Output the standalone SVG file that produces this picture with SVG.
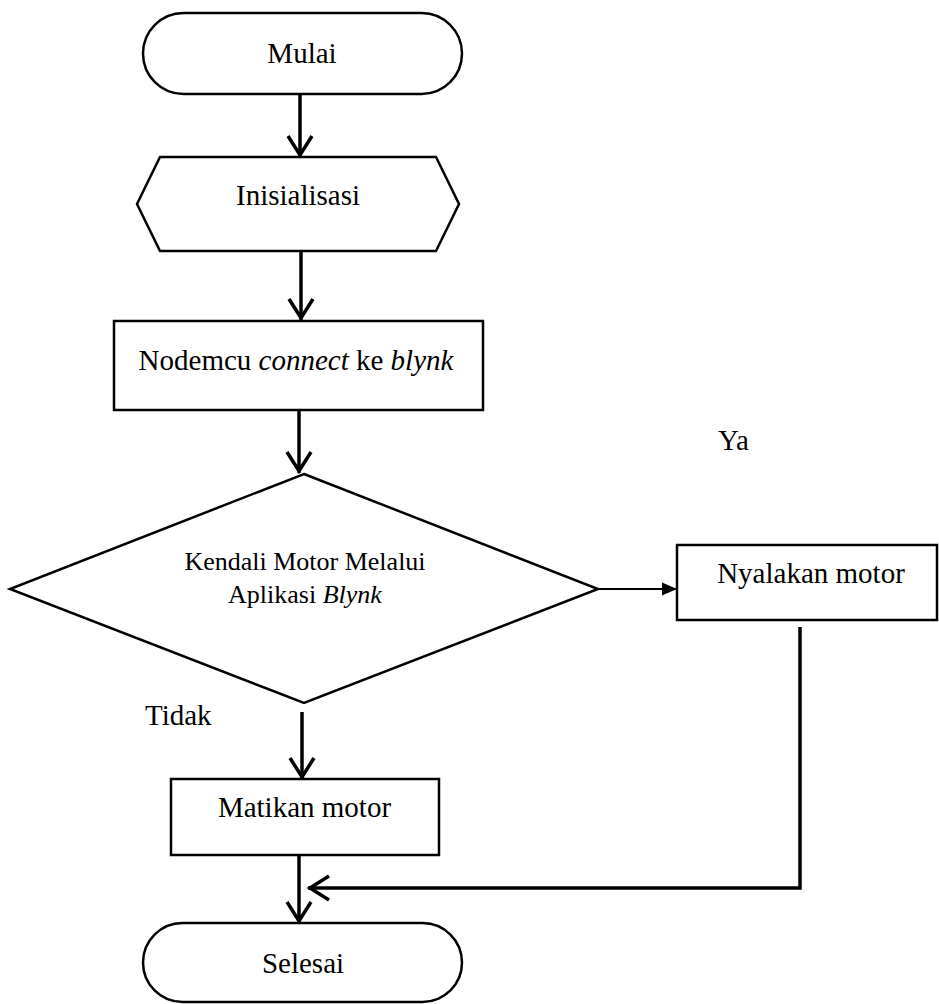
<svg xmlns="http://www.w3.org/2000/svg" width="939" height="1004" viewBox="0 0 939 1004">
<defs>
<style>
.shape{fill:#fff;stroke:#000;stroke-width:2.5}
.conn{fill:none;stroke:#000;stroke-width:3.5}
.thin{fill:none;stroke:#000;stroke-width:2}
.t{font-size:29px;fill:#000}
.sm{font-size:26px}
.c{text-anchor:middle}
</style>
<marker id="open" viewBox="-24 -14 26 28" refX="0" refY="0" markerWidth="26" markerHeight="28" markerUnits="userSpaceOnUse" orient="auto">
<path d="M-21,-12 L-2,0 L-21,12" fill="none" stroke="#000" stroke-width="3.5"/>
</marker>
<marker id="fill" viewBox="-15 -7 15 14" refX="0" refY="0" markerWidth="15" markerHeight="14" markerUnits="userSpaceOnUse" orient="auto">
<path d="M-15,-6.5 L0,0 L-15,6.5 Z" fill="#000"/>
</marker>
</defs>
<g font-family="Liberation Serif, Times New Roman, serif">
<g id="mulai">
<rect class="shape" x="143" y="13" width="319" height="81" rx="40.5"/>
<text class="t c" x="302" y="63">Mulai</text>
</g>
<g id="inisialisasi">
<polygon class="shape" points="137,204 160,157 436,157 459,204 436,251 160,251"/>
<text class="t c" x="298" y="205">Inisialisasi</text>
</g>
<g id="nodemcu">
<rect class="shape" x="114" y="321" width="369" height="89"/>
<text class="t c" x="296" y="370">Nodemcu <tspan font-style="italic">connect</tspan> ke <tspan font-style="italic">blynk</tspan></text>
</g>
<g id="kendali">
<polygon class="shape" points="304,474 598,589 304,703 10,589"/>
<text class="t c sm" x="305" y="570">Kendali Motor Melalui</text>
<text class="t c sm" x="305" y="603">Aplikasi <tspan font-style="italic">Blynk</tspan></text>
</g>
<g id="nyalakan">
<rect class="shape" x="677" y="545" width="260" height="75"/>
<text class="t c" x="811" y="583">Nyalakan motor</text>
</g>
<g id="matikan">
<rect class="shape" x="171" y="779" width="268" height="76"/>
<text class="t c" x="304.5" y="817">Matikan motor</text>
</g>
<g id="selesai">
<rect class="shape" x="143" y="923" width="319" height="79" rx="39.5"/>
<text class="t c" x="303" y="973">Selesai</text>
</g>
<g id="connectors">
<line class="conn" x1="300" y1="94" x2="300" y2="157" marker-end="url(#open)"/>
<line class="conn" x1="301" y1="252" x2="301" y2="320" marker-end="url(#open)"/>
<line class="conn" x1="299" y1="411" x2="299" y2="473" marker-end="url(#open)"/>
<line class="thin" x1="598" y1="589" x2="677" y2="589" marker-end="url(#fill)"/>
<line class="conn" x1="302" y1="712" x2="302" y2="779" marker-end="url(#open)"/>
<line class="conn" x1="299" y1="856" x2="299" y2="923" marker-end="url(#open)"/>
<polyline class="conn" points="800,627 800,888 308,888" marker-end="url(#open)"/>
<text class="t" x="718" y="450">Ya</text>
<text class="t" x="145" y="725">Tidak</text>
</g>
</g>
</svg>
